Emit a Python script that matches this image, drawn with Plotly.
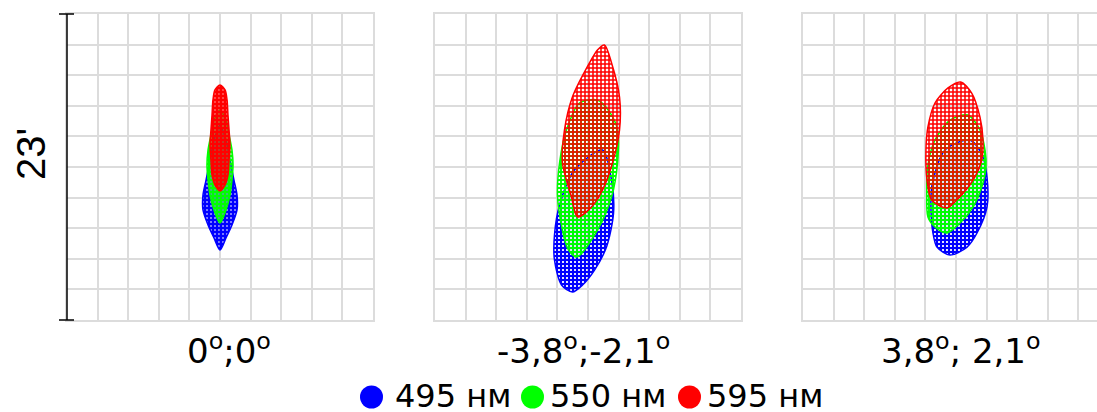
import plotly.graph_objects as go

# ---------------- data ----------------
wavelengths = ["495 нм", "550 нм", "595 нм"]
colors = ["#0000ff", "#00ff00", "#ff0000"]
field_titles = ["0<sup>o</sup>;0<sup>o</sup>",
                "-3,8<sup>o</sup>;-2,1<sup>o</sup>",
                "3,8<sup>o</sup>; 2,1<sup>o</sup>"]
scale_label = "23'"
field_size = 23.0   # arcmin across each spot box
grid_step = 2.3     # arcmin per grid cell

# spot outlines (arcmin, relative to box centre)
# field 0;0
p1_495_x = [0, 0.45, 0.75, 1.05, 1.28, 1.28, 0.90, 0.45, 0, -0.45, -0.90, -1.28, -1.28, -1.05, -0.75, -0.45]
p1_495_y = [3.16, 2.03, 0.53, -0.98, -2.11, -3.23, -4.36, -5.34, -6.24, -5.34, -4.36, -3.23, -2.11, -0.98, 0.53, 2.03]
p1_550_x = [0, 0.45, 0.68, 0.90, 0.98, 0.90, 0.75, 0.45, 0, -0.45, -0.75, -0.90, -0.98, -0.90, -0.68, -0.45]
p1_550_y = [4.29, 3.53, 2.41, 1.28, 0.15, -0.98, -2.11, -3.23, -4.21, -3.23, -2.11, -0.98, 0.15, 1.28, 2.41, 3.53]
p1_595_x = [0, 0.38, 0.53, 0.60, 0.68, 0.75, 0.68, 0.60, 0.38, 0, -0.38, -0.60, -0.68, -0.75, -0.68, -0.60, -0.53, -0.38]
p1_595_y = [6.16, 5.79, 5.04, 3.91, 2.78, 1.65, 0.53, -0.60, -1.35, -1.80, -1.35, -0.60, 0.53, 1.65, 2.78, 3.91, 5.04, 5.79]
# field -3,8;-2,1
p2_495_x = [1.09, 1.77, 1.92, 1.39, 0.49, -0.41, -1.17, -1.99, -2.52, -2.52, -2.14, -1.02]
p2_495_y = [1.28, -0.98, -3.46, -6.02, -7.75, -8.87, -9.40, -8.87, -6.99, -5.11, -2.86, -0.23]
p2_550_x = [0.71, 1.62, 2.22, 2.22, 1.77, 0.71, -0.86, -1.54, -1.92, -2.29, -2.14, -1.62, -0.64]
p2_550_y = [5.04, 4.14, 2.78, 0.30, -2.26, -4.74, -6.77, -6.09, -4.74, -2.26, 0.30, 2.78, 4.81]
p2_595_x = [1.24, 1.77, 2.37, 2.37, 1.84, 1.09, 0.26, -0.79, -1.24, -1.92, -1.77, -1.17, 0.11, 0.71]
p2_595_y = [9.17, 7.82, 5.26, 2.78, 0.30, -1.73, -3.01, -3.76, -2.26, 0.30, 2.78, 5.26, 7.82, 8.80]
# field 3,8;2,1
p3_495_x = [1.05, 1.96, 2.33, 2.33, 1.58, 0.83, -0.45, -1.43, -1.73, -1.88, -1.80, -0.83]
p3_495_y = [2.03, 0.90, -0.75, -3.01, -4.96, -6.02, -6.62, -6.02, -4.96, -3.23, -1.35, 1.28]
p3_550_x = [0.90, 1.80, 2.18, 2.26, 2.03, 1.28, 0.30, -0.70, -1.58, -2.11, -2.20, -2.11, -1.58, -0.45]
p3_550_y = [3.91, 2.78, 1.28, 0, -1.20, -3.01, -4.21, -4.96, -4.51, -3.76, -1.96, 0.15, 2.03, 3.53]
p3_595_x = [0.35, 1.18, 1.80, 2.03, 1.93, 1.28, 0.05, -0.70, -1.83, -2.18, -2.26, -2.11, -1.58, -0.60]
p3_595_y = [6.39, 5.56, 3.76, 2.03, 0.53, -0.98, -2.48, -3.08, -2.48, -0.98, 1.28, 3.01, 4.81, 5.94]

spots = [
    [(p1_495_x, p1_495_y), (p1_550_x, p1_550_y), (p1_595_x, p1_595_y)],
    [(p2_495_x, p2_495_y), (p2_550_x, p2_550_y), (p2_595_x, p2_595_y)],
    [(p3_495_x, p3_495_y), (p3_550_x, p3_550_y), (p3_595_x, p3_595_y)],
]

# ---------------- layout geometry (pixels) / style ----------------
W, H = 1097, 412
panel_left = [67, 435, 803]
panel_w = 306
top_px, bot_px = 14, 320
grid_col = "#dcdcdc"
# density of the ray-hatching per field (compact spot is denser)
panel_solidity = [[0.9, 0.9, 0.92], [0.8, 0.72, 0.62], [0.8, 0.72, 0.62]]

def px(x):
    return x / W

def py(y):
    return (H - y) / H

fig = go.Figure()
half = field_size / 2

for i, panel in enumerate(spots):
    ax = "" if i == 0 else str(i + 1)
    for (xs, ys), c, sol in zip(panel, colors, panel_solidity[i]):
        fig.add_trace(go.Scatter(
            x=list(xs) + [xs[0]], y=list(ys) + [ys[0]],
            mode="lines", fill="toself",
            line=dict(color=c, width=1.5, shape="spline", smoothing=0.8),
            fillcolor=c,
            fillpattern=dict(shape="+", fgcolor=c, bgcolor="rgba(255,255,255,0)",
                             fgopacity=1, size=4, solidity=sol),
            xaxis="x" + ax, yaxis="y" + ax,
            showlegend=False, hoverinfo="skip"))

    left = panel_left[i]
    right = min(left + panel_w, W)
    x_end = -half + (right - left) / panel_w * field_size
    common = dict(showgrid=True, gridcolor=grid_col, gridwidth=2,
                  showticklabels=False, ticks="", zeroline=False,
                  showline=True, linecolor=grid_col, linewidth=2,
                  tick0=-half, dtick=grid_step, fixedrange=True)
    fig.layout["xaxis" + ax] = dict(domain=[px(left), px(right)], range=[-half, x_end],
                                    anchor="y" + ax, mirror=True, **common)
    fig.layout["yaxis" + ax] = dict(domain=[py(bot_px), py(top_px)], range=[-half, half],
                                    anchor="x" + ax, mirror=(i < 2), **common)

# black scale bar on the left of the first box
shapes = [
    dict(type="line", xref="x domain", yref="y domain", x0=0, x1=0, y0=0, y1=1,
         line=dict(color="black", width=1.5), layer="above"),
    dict(type="line", xref="x domain", yref="y domain", x0=-8 / panel_w, x1=7 / panel_w,
         y0=0, y1=0, line=dict(color="black", width=1.5), layer="above"),
    dict(type="line", xref="x domain", yref="y domain", x0=-8 / panel_w, x1=7 / panel_w,
         y0=1, y1=1, line=dict(color="black", width=1.5), layer="above"),
]

annotations = [dict(text=scale_label, x=px(31), y=py(154), xref="paper", yref="paper",
                    textangle=-90, showarrow=False, xanchor="center", yanchor="middle",
                    font=dict(family="Liberation Sans", size=40, color="black"))]

title_cx = [228.5, 583.5, 961]
for t, cx in zip(field_titles, title_cx):
    annotations.append(dict(text=t, x=px(cx), y=py(349), xref="paper", yref="paper",
                            showarrow=False, xanchor="center", yanchor="middle",
                            font=dict(family="DejaVu Sans", size=34, color="black")))

# legend (circle + label)
legend_cx = [371.5, 532.5, 689.5]
legend_tx = [393, 548, 705]
for lab, c, cx, tx in zip(wavelengths, colors, legend_cx, legend_tx):
    r = 11.5
    shapes.append(dict(type="circle", xref="paper", yref="paper",
                       x0=px(cx - r), x1=px(cx + r), y0=py(397 + r), y1=py(397 - r),
                       fillcolor=c, line=dict(width=0)))
    annotations.append(dict(text=lab, x=px(tx), y=py(396), xref="paper", yref="paper",
                            showarrow=False, xanchor="left", yanchor="middle",
                            font=dict(family="DejaVu Sans", size=32, color="black")))

fig.update_layout(width=W, height=H, margin=dict(l=0, r=0, t=0, b=0),
                  paper_bgcolor="white", plot_bgcolor="white",
                  shapes=shapes, annotations=annotations, showlegend=False)

fig.write_html("out.html", config={"displayModeBar": False},
               post_script="document.body.style.margin='0';"
                           "document.body.style.overflow='hidden';")
